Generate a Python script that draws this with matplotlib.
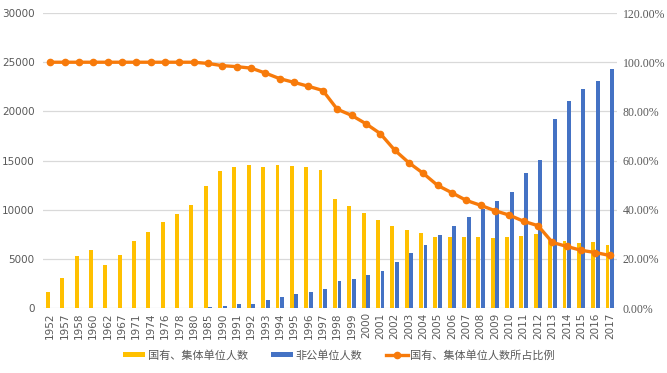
import matplotlib
matplotlib.use("Agg")
import matplotlib.pyplot as plt
import numpy as np
from matplotlib.ticker import FuncFormatter, MultipleLocator

years = ["1952", "1957", "1958", "1960", "1962", "1967", "1971", "1974", "1976", "1978",
         "1980", "1985", "1990", "1991", "1992", "1993", "1994", "1995", "1996", "1997",
         "1998", "1999", "2000", "2001", "2002", "2003", "2004", "2005", "2006", "2007",
         "2008", "2009", "2010", "2011", "2012", "2013", "2014", "2015", "2016", "2017"]

state_collective = [1600, 3100, 5250, 5950, 4340, 5360, 6780, 7690, 8710, 9530,
                    10440, 12370, 13900, 14300, 14500, 14300, 14500, 14400, 14300, 14000,
                    11050, 10340, 9630, 8920, 8310, 7900, 7590, 7250, 7190, 7190,
                    7190, 7120, 7190, 7360, 7490, 7000, 6860, 6640, 6680, 6430]

non_public = [0, 0, 0, 0, 0, 0, 0, 0, 0, 0,
              0, 120, 240, 370, 370, 780, 1080, 1390, 1590, 1900,
              2710, 2920, 3320, 3730, 4640, 5560, 6370, 7390, 8310, 9290,
              10030, 10850, 11760, 13690, 15020, 19190, 21020, 22310, 23050, 24270]

share = [1.0, 1.0, 1.0, 1.0, 1.0, 1.0, 1.0, 1.0, 1.0, 1.0,
         1.0, 0.995, 0.986, 0.982, 0.976, 0.956, 0.933, 0.918, 0.902, 0.885,
         0.809, 0.784, 0.750, 0.710, 0.643, 0.591, 0.548, 0.499, 0.469, 0.438,
         0.418, 0.396, 0.378, 0.353, 0.335, 0.267, 0.251, 0.235, 0.226, 0.214]

legend_labels = ["国有、集体单位人数", "非公单位人数", "国有、集体单位人数所占比例"]

plt.rcParams['font.family'] = ['Noto Sans CJK SC', 'DejaVu Sans']

fig = plt.figure(figsize=(6.67, 3.73), dpi=100)
ax = fig.add_axes([0.0645, 0.174, 0.8605, 0.791])
ax2 = ax.twinx()

x = np.arange(len(years))
w = 0.27
c_yellow = "#FFC000"
c_blue = "#4472C4"
c_orange = "#F77A0A"
c_text = "#595959"

b1 = ax.bar(x - 0.16, state_collective, width=w, color=c_yellow, zorder=2,
            label=legend_labels[0])
b2 = ax.bar(x + 0.16, non_public, width=w, color=c_blue, zorder=2,
            label=legend_labels[1])
l1, = ax2.plot(x, share, color=c_orange, linewidth=2.4, marker="o", markersize=4.5,
               label=legend_labels[2], zorder=3)

ax.set_xlim(-0.5, len(years) - 0.5)
ax.set_ylim(0, 30000)
ax.yaxis.set_major_locator(MultipleLocator(5000))
ax2.set_ylim(0, 1.2)
ax2.yaxis.set_major_locator(MultipleLocator(0.2))
ax2.yaxis.set_major_formatter(FuncFormatter(lambda v, p: f"{v*100:.2f}%"))

ax.set_xticks(x)
ax.set_xticklabels(years, rotation=90, fontsize=7.5, color=c_text,
                   family=['DejaVu Sans'])
for lab in ax.get_yticklabels():
    lab.set_fontsize(7.5)
    lab.set_color(c_text)
    lab.set_family(['DejaVu Sans'])
for lab in ax2.get_yticklabels():
    lab.set_fontsize(8.5)
    lab.set_color(c_text)
    lab.set_family(['Liberation Serif'])

ax.grid(axis="y", color="#D9D9D9", linewidth=0.9, zorder=0)
ax.set_axisbelow(True)
for a in (ax, ax2):
    for s in a.spines.values():
        s.set_visible(False)
    a.tick_params(length=0)
ax.tick_params(axis="x", pad=3)
ax.tick_params(axis="y", pad=6)
ax2.tick_params(axis="y", pad=4)

ax.set_zorder(1)
ax2.set_zorder(2)
ax2.patch.set_visible(False)

fig.legend([b1, b2, l1], legend_labels, loc="center", bbox_to_anchor=(0.508, 0.048),
           ncol=3, frameon=False, fontsize=8, handlelength=2.0, handleheight=0.45,
           handletextpad=0.2, columnspacing=2.1, labelcolor=c_text)

fig.savefig("out.png", dpi=100)
